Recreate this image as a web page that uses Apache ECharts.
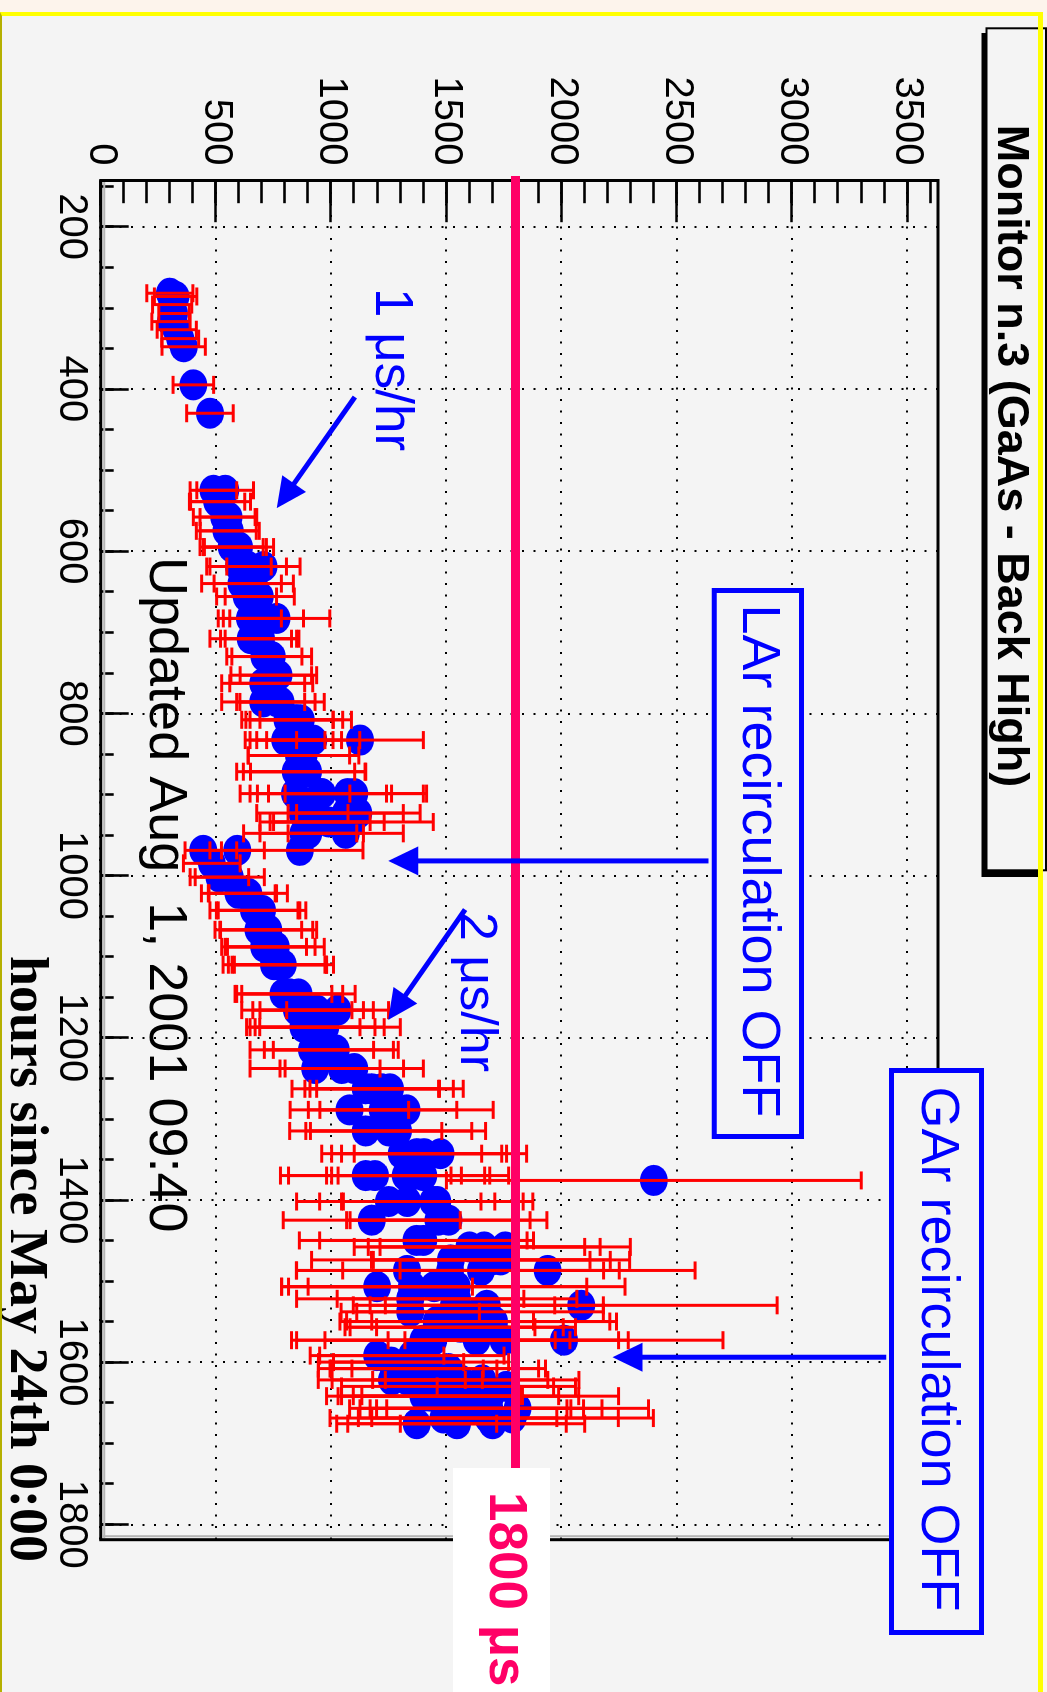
<!DOCTYPE html>
<html>
<head>
<meta charset="utf-8">
<title>Monitor n.3 (GaAs - Back High)</title>
<script src="https://cdn.jsdelivr.net/npm/echarts@6/dist/echarts.min.js"></script>
<style>
  html, body { margin: 0; padding: 0; width: 1047px; height: 1692px; overflow: hidden; background: #fdf4ec; }
  #panel { position: absolute; left: 0; top: 12px; width: 1043px; height: 1680px; background: #f4f4f4; }
  /* the plot is laid out landscape and turned a quarter clockwise onto the page */
  #chart { position: absolute; left: 0; top: 0; width: 1692px; height: 1047px;
           transform-origin: 0 0; transform: translateX(1047px) rotate(90deg); }
  #edge { position: absolute; left: 0; top: 12px; width: 1043px; height: 1680px; box-sizing: border-box;
          border-top: 4px solid #ffff00; border-right: 5px solid #ffff00; border-left: 2px solid #b5b000;
          pointer-events: none; }
</style>
</head>
<body>
<div id="panel"></div>
<div id="chart"></div>
<div id="edge"></div>
<script>
// ---- electron lifetime (us) vs. hours since May 24th 0:00, with lifetime errors ----
// rows: [hour, lifetime, lifetime error]; several readings share each read-out time
const periodA = [
  [282,300,100],[286,325,92],[296,310,85],[307,318,66],[317,305,83],[327,330,85],
  [338,345,80],[348,360,94],[395,402,88],[430,474,101]
];
const periodB = [
  [525,489,101],[525,540,123],[539,505,120],[539,520,130],[558,536,134],[558,554,123],[575,545,130],
  [575,560,128],[595,568,137],[595,582,137],[595,600,150],[619,600,140],[619,640,166],[619,706,159],
  [640,611,173],[640,664,172],[656,633,130],[656,690,150],[683,647,137],[683,763,231],[683,720,160],
  [708,651,177],[708,695,155],[708,690,170],[730,710,163],[730,742,173],[753,740,175],[753,771,166],
  [763,705,180],[763,740,180],[786,705,180],[786,767,163],[786,780,190],[808,810,198],[808,850,159],
  [808,868,220],[808,840,210],[833,800,173],[833,828,180],[833,861,184],[833,922,202],[833,1125,275],
  [852,860,220],[852,880,240],[872,846,256],[872,883,264],[872,900,250],[899,843,238],[899,955,307],
  [899,1071,343],[899,960,280],[899,1100,300],[923,875,198],[923,1063,250],[923,1118,268],
  [934,930,239],[934,1089,354],[934,990,240],[948,901,210],[948,1063,250],[948,880,260],[969,864,274]
];
const periodC = [
  [969,445,79],[969,592,118],[985,482,123],[1002,515,127],[1002,560,150],[1022,597,160],[1022,615,148],
  [1022,640,170],[1043,665,191],[1043,683,181],[1043,700,190],[1067,684,188],[1067,727,210],
  [1067,720,200],[1088,709,184],[1088,735,195],[1088,760,210],[1110,752,221],[1110,767,213],
  [1110,790,220],[1110,780,200],[1146,820,230],[1146,793,210],[1146,858,246],[1166,900,240],
  [1166,851,239],[1166,937,246],[1166,1028,221],[1187,930,260],[1187,879,246],[1187,974,326],
  [1187,960,270],[1215,916,268],[1215,1020,271],[1215,990,280],[1238,930,282],[1238,1046,268],
  [1238,1100,300],[1263,1176,290],[1263,1219,311],[1263,1255,318],[1263,1150,320],
  [1289,1079,257],[1289,1223,322],[1289,1327,376]
];
const periodD = [
  [1315,1150,330],[1315,1290,380],[1315,1250,360],
  [1343,1306,347],[1343,1371,369],[1343,1403,358],[1343,1474,374],
  [1370,1150,370],[1370,1190,375],[1370,1323,343],[1370,1345,343],[1370,1400,370],[1376,2400,900],
  [1402,1330,380],[1402,1443,390],[1402,1460,415],[1402,1250,400],
  [1425,1176,384],[1425,1465,398],[1425,1509,427],
  [1450,1370,508],[1450,1400,450],[1458,1664,503],[1458,1755,543],[1458,1600,500],
  [1474,1519,604],[1474,1697,514],[1474,1735,560],
  [1487,1329,480],[1487,1516,666],[1487,1939,640],[1487,1650,600],
  [1507,1199,414],[1507,1447,662],[1507,1545,730],[1507,1350,450],
  [1522,1343,493],[1522,1546,520],[1530,1533,437],[1530,1675,506],[1530,2085,850],
  [1538,1343,300],[1538,1646,535],[1550,1458,420],[1550,1638,571],[1550,1707,531],
  [1557,1483,401],[1557,1602,405],[1557,1560,500],
  [1573,1400,572],[1573,1443,593],[1573,1631,658],[1573,1747,500],[1573,2010,690],
  [1592,1350,400],[1592,1199,290],[1600,1260,315],[1600,1390,380],
  [1608,1302,358],[1608,1357,362],[1608,1510,420],[1608,1450,450],
  [1622,1263,319],[1622,1330,326],[1622,1560,380],[1622,1655,420],
  [1630,1505,460],[1630,1760,300],
  [1642,1430,400],[1642,1516,471],[1642,1585,489],[1642,1690,557],[1642,1400,420],
  [1657,1574,449],[1657,1632,463],[1657,1686,489],[1657,1809,568],[1657,1560,480],
  [1669,1487,492],[1669,1682,564],[1669,1787,611],
  [1676,1371,347],[1676,1546,474],[1676,1700,400]
];

// axis ranges and ticks
const hourRange = [143, 1819];
const lifetimeRange = [0, 3633];
const hourTicks = [200, 400, 600, 800, 1000, 1200, 1400, 1600, 1800];
const hourMinorTicks = [150, 200, 250, 300, 350, 400, 450, 500, 550, 600, 650, 700, 750, 800, 850, 900, 950,
  1000, 1050, 1100, 1150, 1200, 1250, 1300, 1350, 1400, 1450, 1500, 1550, 1600, 1650, 1700, 1750, 1800];
const lifetimeTicks = [0, 500, 1000, 1500, 2000, 2500, 3000, 3500];
const lifetimeMinorTicks = [0, 100, 200, 300, 400, 500, 600, 700, 800, 900, 1000, 1100, 1200, 1300, 1400,
  1500, 1600, 1700, 1800, 1900, 2000, 2100, 2200, 2300, 2400, 2500, 2600, 2700, 2800, 2900, 3000,
  3100, 3200, 3300, 3400, 3500, 3600];

// 1800 us reference level
const targetLifetime = 1800;
const targetLineHours = [132, 1819];

// annotation arrows: [hour from, lifetime from, hour to, lifetime to]
const arrows = [
  [410, 1103, 547, 764],
  [1042, 1581, 1178, 1248],
  [982, 2637, 982, 1248],
  [1594, 3408, 1594, 2221]
];

const titleText = 'Monitor n.3 (GaAs - Back High)';
const updatedText = 'Updated Aug  1, 2001 09:40';
const hourAxisTitle = 'hours since May 24th 0:00';

const SANS = '"Liberation Sans", Arial, Helvetica, sans-serif';
const SERIF = '"Liberation Serif", "Times New Roman", Times, serif';

const points = periodA.concat(periodB, periodC, periodD);

const frame = { left: 180.5, right: 152.3, top: 109, bottom: 100.7 };
const tickLine = { color: '#000', width: 2.6 };
const dotted = { color: '#000', width: 2, type: [2, 9.5] };

function errorBar(params, api) {
  const h = api.value(0), v = api.value(1), e = api.value(2);
  const lo = api.coord([h, v - e]);
  const hi = api.coord([h, v + e]);
  const cap = 9;
  const style = { stroke: '#ff0000', lineWidth: 3 };
  return {
    type: 'group',
    children: [
      { type: 'line', shape: { x1: lo[0], y1: lo[1], x2: hi[0], y2: hi[1] }, style: style },
      { type: 'line', shape: { x1: lo[0] - cap, y1: lo[1], x2: lo[0] + cap, y2: lo[1] }, style: style },
      { type: 'line', shape: { x1: hi[0] - cap, y1: hi[1], x2: hi[0] + cap, y2: hi[1] }, style: style }
    ]
  };
}

function arrow(params, api) {
  const p0 = api.coord([api.value(0), api.value(1)]);
  const p1 = api.coord([api.value(2), api.value(3)]);
  const dx = p1[0] - p0[0], dy = p1[1] - p0[1];
  const len = Math.sqrt(dx * dx + dy * dy);
  const ux = dx / len, uy = dy / len;
  const head = 30, half = 14.5;
  const bx = p1[0] - ux * head, by = p1[1] - uy * head;
  return {
    type: 'group',
    children: [
      { type: 'line', shape: { x1: p0[0], y1: p0[1], x2: bx + ux * 4, y2: by + uy * 4 },
        style: { stroke: '#0000ff', lineWidth: 5 } },
      { type: 'polygon', shape: { points: [[p1[0], p1[1]], [bx - uy * half, by + ux * half], [bx + uy * half, by - ux * half]] },
        style: { fill: '#0000ff' } }
    ]
  };
}

function label(text, x, y, font, fill, align) {
  return { type: 'text', z: 30, style: { text: text, x: x, y: y, font: font, fill: fill,
    textAlign: align, textVerticalAlign: 'middle', align: align, verticalAlign: 'middle' } };
}

const chart = echarts.init(document.getElementById('chart'), null, { renderer: 'canvas', width: 1692, height: 1047 });

chart.setOption({
  animation: false,
  grid: [
    Object.assign({ show: true, borderColor: '#000', borderWidth: 3, backgroundColor: 'transparent' }, frame),
    Object.assign({ show: false }, frame)
  ],
  xAxis: [
    { gridIndex: 0, type: 'value', position: 'bottom', min: hourRange[0], max: hourRange[1],
      axisLine: { show: false },
      axisTick: { show: true, inside: true, length: 28, customValues: hourTicks, lineStyle: tickLine },
      axisLabel: { show: true, customValues: hourTicks, formatter: v => String(v), color: '#000',
        fontSize: 40, fontFamily: SANS, margin: 10, lineHeight: 40 },
      splitLine: { show: true, lineStyle: dotted } },
    { gridIndex: 1, type: 'value', position: 'bottom', min: hourRange[0], max: hourRange[1],
      axisLine: { show: false },
      axisTick: { show: true, inside: true, length: 13, customValues: hourMinorTicks, lineStyle: tickLine },
      axisLabel: { show: false }, splitLine: { show: false } }
  ],
  yAxis: [
    { gridIndex: 0, type: 'value', position: 'left', min: lifetimeRange[0], max: lifetimeRange[1],
      axisLine: { show: false },
      axisTick: { show: true, inside: true, length: 41.7, customValues: lifetimeTicks, lineStyle: tickLine },
      axisLabel: { show: true, customValues: lifetimeTicks, formatter: v => String(v), color: '#000',
        fontSize: 40, fontFamily: SANS, margin: 15 },
      splitLine: { show: true, lineStyle: dotted } },
    { gridIndex: 1, type: 'value', position: 'left', min: lifetimeRange[0], max: lifetimeRange[1],
      axisLine: { show: false },
      axisTick: { show: true, inside: true, length: 22.7, customValues: lifetimeMinorTicks, lineStyle: tickLine },
      axisLabel: { show: false }, splitLine: { show: false } }
  ],
  series: [
    { name: 'lifetime', type: 'scatter', xAxisIndex: 0, yAxisIndex: 0, z: 2,
      symbol: 'circle', symbolSize: [31, 28], itemStyle: { color: '#0000ff', opacity: 1 },
      data: points.map(p => [p[0], p[1]]) },
    { name: 'lifetime error', type: 'custom', xAxisIndex: 0, yAxisIndex: 0, z: 3,
      renderItem: errorBar, encode: { x: 0, y: 1 }, data: points },
    { name: '1800 us', type: 'line', xAxisIndex: 0, yAxisIndex: 0, z: 5, clip: false,
      symbol: 'none', lineStyle: { color: '#ff0066', width: 9 },
      data: [[targetLineHours[0], targetLifetime], [targetLineHours[1], targetLifetime]] },
    { name: 'arrows', type: 'custom', xAxisIndex: 0, yAxisIndex: 0, z: 6, clip: false,
      renderItem: arrow, encode: { x: [0, 2], y: [1, 3] }, data: arrows }
  ],
  graphic: [
    // inner frame shade
    { type: 'line', z: 1, shape: { x1: 182, y1: 942.7, x2: 1538, y2: 942.7 }, style: { stroke: '#b4b4b4', lineWidth: 2 } },
    { type: 'line', z: 1, shape: { x1: 1536.2, y1: 110.5, x2: 1536.2, y2: 944 }, style: { stroke: '#b4b4b4', lineWidth: 2 } },
    // title pave
    { type: 'rect', z: 20, shape: { x: 33, y: 6, width: 844, height: 59.5 }, style: { fill: '#000' } },
    { type: 'rect', z: 21, shape: { x: 28.3, y: 1, width: 842, height: 59.5 }, style: { fill: '#f4f4f4', stroke: '#000', lineWidth: 2 } },
    label(titleText, 456, 37, 'bold 45px ' + SANS, '#000', 'center'),
    // recirculation notes
    { type: 'rect', z: 21, shape: { x: 590.5, y: 245.5, width: 546, height: 87.3 }, style: { fill: '#f4f4f4', stroke: '#0000ff', lineWidth: 5 } },
    label('LAr recirculation OFF', 861, 289, '54px ' + SANS, '#0000ff', 'center'),
    { type: 'rect', z: 21, shape: { x: 1070.5, y: 65.5, width: 562, height: 90 }, style: { fill: '#f4f4f4', stroke: '#0000ff', lineWidth: 5 } },
    label('GAr recirculation OFF', 1349, 110, '54px ' + SANS, '#0000ff', 'center'),
    // slopes
    label('1 \u03bcs/hr', 288, 656, '53px ' + SANS, '#0000ff', 'left'),
    label('2 \u03bcs/hr', 912, 572, '52px ' + SANS, '#0000ff', 'left'),
    // update stamp
    label(updatedText, 557, 882, '54px ' + SANS, '#000', 'left'),
    // axis title
    label(hourAxisTitle, 1562, 1022, 'bold 54px ' + SERIF, '#000', 'right'),
    // 1800 us tag
    { type: 'rect', z: 25, shape: { x: 1468, y: 497, width: 240, height: 97 }, style: { fill: '#ffffff' } },
    label('1800 \u03bcs', 1492, 542, 'bold 53px ' + SANS, '#ff0066', 'left')
  ]
});
</script>
</body>
</html>
